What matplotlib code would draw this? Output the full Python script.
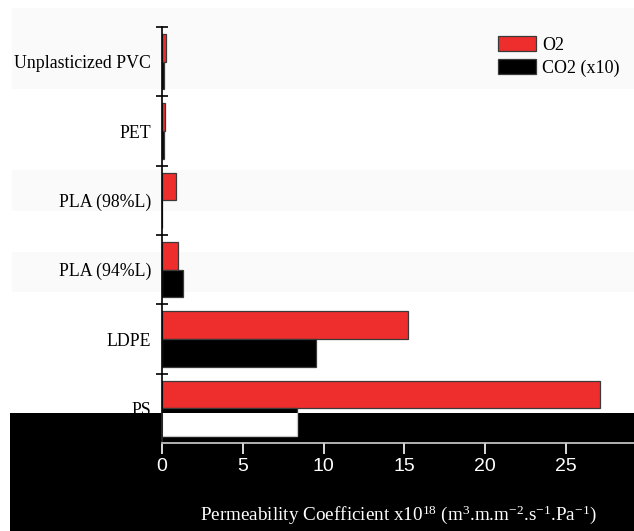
import matplotlib
matplotlib.use("Agg")
import matplotlib.pyplot as plt
from matplotlib.patches import Rectangle
import numpy as np

plt.rcParams["mathtext.fontset"] = "custom"
plt.rcParams["mathtext.rm"] = "Liberation Serif"
plt.rcParams["mathtext.it"] = "Liberation Serif:italic"

# Permeability data (CO2 values are multiplied by 10)
materials = ["Unplasticized PVC", "PET", "PLA (98%L)", "PLA (94%L)", "LDPE", "PS"]
o2_values = [0.25, 0.2, 0.87, 1.0, 15.2, 27.1]
co2_values = [0.1, 0.1, 0.0, 1.3, 9.55, 8.35]
x_ticks = [0, 5, 10, 15, 20, 25]
series_labels = ["O2", "CO2 (x10)"]

W, H = 634, 531
fig = plt.figure(figsize=(W / 100, H / 100), dpi=100)
fig.patch.set_facecolor("white")

# faint horizontal banding in the background
for top, bottom in [(8, 89), (170, 211), (252, 292)]:
    fig.patches.append(Rectangle((12 / W, 1 - bottom / H), 1 - 12 / W, (bottom - top) / H,
                                 transform=fig.transFigure, facecolor="#fafafa",
                                 edgecolor="none", zorder=-2))

# dark lower panel
dark = Rectangle((10 / W, 0), 1 - 10 / W, (H - 413) / H, transform=fig.transFigure,
                 facecolor="black", edgecolor="none", zorder=-1)
fig.patches.append(dark)

ax = fig.add_axes([162 / W, (H - 443) / H, 1 - 162 / W, (443 - 27) / H])
ax.set_facecolor("none")

y = np.arange(len(materials))
h = 0.4
ax.barh(y - h / 2, o2_values, height=h, color="#ee2e2c", edgecolor="#3a3a3a",
        linewidth=0.9, label=series_labels[0])
ax.barh(y + h / 2, co2_values, height=h, color="black", edgecolor="#3a3a3a",
        linewidth=0.9, label=series_labels[1])
# the part of the bars inside the dark panel is shown in reverse tone
inv = ax.barh(y + h / 2, co2_values, height=h, color="white", edgecolor="#c8c8c8",
              linewidth=0.9)
for b in inv:
    b.set_clip_path(dark)
vline = ax.axvline(0, color="white", linewidth=1.2)
vline.set_clip_path(dark)

ax.set_xlim(0, 472 / 16.16)
ax.set_ylim(len(materials) - 0.5, -0.5)

for s in ["top", "right"]:
    ax.spines[s].set_visible(False)
ax.spines["left"].set_color("black")
ax.spines["left"].set_linewidth(1.2)
ax.spines["bottom"].set_color("#d0d0d0")
ax.spines["bottom"].set_linewidth(1.2)

ax.set_xticks(x_ticks)
ax.set_xticklabels([str(t) for t in x_ticks], fontfamily="Liberation Sans", fontsize=14,
                   color="white")
ax.tick_params(axis="x", direction="out", length=8, width=1.2, color="white", pad=3)

ax.set_yticks(np.arange(-0.5, len(materials) + 0.5, 1.0))
ax.set_yticklabels([])
ax.tick_params(axis="y", which="major", direction="inout", length=8, width=1.2, color="black")
ax.set_yticks(y, minor=True)
ax.set_yticklabels(materials, minor=True, fontfamily="Liberation Serif", fontsize=12.8)
ax.tick_params(axis="y", which="minor", length=0, pad=8)

ax.set_xlabel("Permeability Coefficient x10$^{18}$ (m$^{3}$.m.m$^{-2}$.s$^{-1}$.Pa$^{-1}$)",
              fontfamily="Liberation Serif", fontsize=13.8, color="white", labelpad=20)

leg = ax.legend(loc="upper right", bbox_to_anchor=(0.985, 0.995), frameon=False,
                prop={"family": "Liberation Serif", "size": 13},
                handlelength=2.1, handleheight=0.9, handletextpad=0.35, labelspacing=0.3,
                borderaxespad=0.0)

fig.savefig("out.png", dpi=100)
